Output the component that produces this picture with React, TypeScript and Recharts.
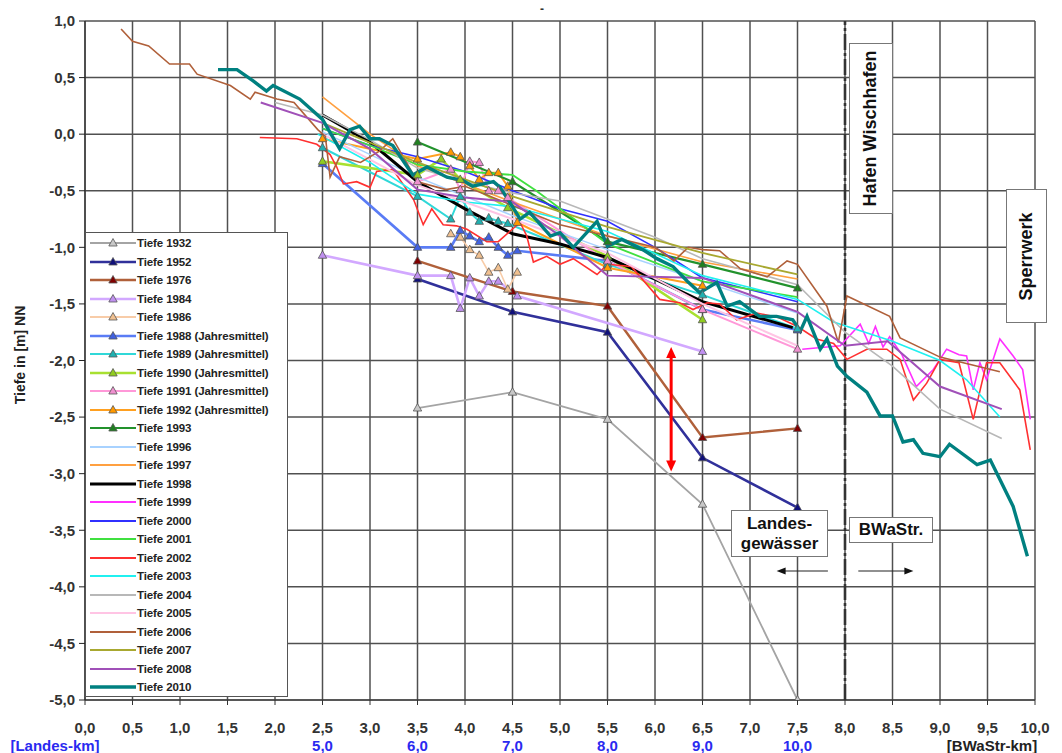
import React from 'react';
import { LineChart, Line, XAxis, YAxis, CartesianGrid, ReferenceLine } from 'recharts';

// ---------- axes ----------
const xTicks = [0, 0.5, 1, 1.5, 2, 2.5, 3, 3.5, 4, 4.5, 5, 5.5, 6, 6.5, 7, 7.5, 8, 8.5, 9, 9.5, 10];
const yTicks = [1, 0.5, 0, -0.5, -1, -1.5, -2, -2.5, -3, -3.5, -4, -4.5, -5];
const landesTicks = [2.5, 3.5, 4.5, 5.5, 6.5, 7.5];
const landesLabels = ['5,0', '6,0', '7,0', '8,0', '9,0', '10,0'];

// ---------- series values [km, Tiefe] ----------
const t1932 = [[3.5, -2.42], [4.5, -2.28], [5.5, -2.52], [6.5, -3.27], [7.5, -5.0]];
const t1952 = [[3.5, -1.28], [4.5, -1.57], [5.5, -1.75], [6.5, -2.86], [7.5, -3.3]];
const t1976 = [[3.5, -1.12], [4.5, -1.39], [5.5, -1.52], [6.5, -2.68], [7.5, -2.6]];
const t1984 = [[2.5, -1.07], [3.5, -1.25], [3.85, -1.25], [3.95, -1.54], [4.05, -1.27], [4.15, -1.43], [4.25, -1.3], [4.35, -1.3], [4.55, -1.43], [6.5, -1.92]];
const t1986 = [[3.85, -0.88], [3.95, -0.91], [4.05, -1.02], [4.15, -1.07], [4.25, -1.22], [4.35, -1.18], [4.45, -1.37], [4.55, -1.22]];
const t1988 = [[2.5, -0.26], [3.5, -1.0], [3.85, -1.0], [3.95, -0.85], [4.05, -0.9], [4.15, -0.95], [4.25, -0.91], [4.35, -1.0], [4.45, -1.07], [4.55, -1.03], [5.5, -1.12], [6.5, -1.55], [7.5, -1.73]];
const t1989 = [[2.5, -0.12], [3.5, -0.55], [3.85, -0.75], [3.95, -0.55], [4.05, -0.69], [4.15, -0.77], [4.25, -0.74], [4.35, -0.77], [4.45, -0.79], [5.5, -1.15], [6.5, -1.42], [7.5, -1.72]];
const t1990 = [[2.5, -0.24], [3.5, -0.36], [3.75, -0.22], [3.95, -0.4], [4.45, -0.65], [5.5, -1.08], [6.5, -1.64]];
const t1991 = [[3.5, -0.42], [3.85, -0.31], [3.95, -0.49], [4.05, -0.24], [4.15, -0.25], [4.25, -0.5], [4.35, -0.5], [4.45, -0.56], [5.5, -1.12], [6.5, -1.55], [7.5, -1.9]];
const t1992 = [[2.5, -0.04], [3.5, -0.22], [3.85, -0.16], [3.95, -0.2], [4.05, -0.28], [4.15, -0.4], [4.25, -0.34], [4.35, -0.34], [4.45, -0.46], [4.55, -0.78], [5.5, -1.18], [6.5, -1.34]];
const t1993 = [[3.5, -0.07], [4.5, -0.42], [5.5, -0.95], [6.5, -1.15], [7.5, -1.36]];
const t1996 = [[2.5, 0.02], [3.5, -0.38], [4.5, -0.72], [5.5, -1.02], [6.5, -1.3], [7.5, -1.58]];
const t1997 = [[2.5, 0.33], [3.0, 0.0], [3.5, -0.28], [4.5, -0.6], [5.5, -0.9], [6.5, -1.13], [7.5, -1.28]];
const t1998 = [[2.5, 0.17], [3.0, -0.07], [3.5, -0.42], [4.0, -0.66], [4.5, -0.88], [5.0, -0.97], [5.5, -1.09], [6.0, -1.28], [6.5, -1.48], [7.45, -1.71]];
const t1999 = [[7.55, -1.9], [7.95, -1.87], [8.16, -1.68], [8.25, -1.85], [8.32, -1.7], [8.4, -1.88], [8.47, -1.79], [8.6, -1.95], [8.75, -2.23], [8.93, -2.08], [9.07, -1.9], [9.2, -1.95], [9.28, -1.96], [9.35, -2.26], [9.42, -2.02], [9.49, -2.17], [9.63, -1.81], [9.77, -1.96], [9.87, -2.08], [9.95, -2.52]];
const t2000 = [[2.5, 0.05], [3.0, -0.1], [3.5, -0.2], [4.0, -0.33], [4.5, -0.5], [5.0, -0.66], [5.5, -0.77], [6.0, -1.0], [6.5, -1.27], [7.5, -1.48]];
const t2001 = [[2.5, 0.05], [3.0, -0.1], [3.5, -0.27], [4.0, -0.33], [4.5, -0.36], [4.75, -0.5], [5.5, -0.97], [6.5, -1.3], [7.5, -1.44]];
const t2002 = [[1.84, -0.03], [2.23, -0.04], [2.44, -0.09], [2.58, -0.18], [2.65, -0.29], [2.72, -0.44], [2.86, -0.42], [3.0, -0.47], [3.07, -0.33], [3.24, -0.31], [3.46, -0.58], [3.56, -0.8], [3.65, -0.66], [3.77, -0.8], [3.91, -0.81], [4.02, -0.84], [4.23, -0.95], [4.35, -0.95], [4.47, -0.86], [4.58, -0.78], [4.65, -0.9], [4.72, -1.13], [4.86, -1.08], [5.0, -1.15], [5.14, -1.1], [5.39, -1.24], [5.5, -1.15], [5.75, -1.17], [6.05, -1.46], [6.26, -1.49], [6.4, -1.55], [6.55, -1.49], [6.68, -1.5], [6.86, -1.64], [7.07, -1.58], [7.3, -1.62], [7.5, -1.7], [7.7, -1.81], [7.88, -1.85], [8.02, -1.99], [8.23, -1.9], [8.44, -1.9], [8.58, -1.99], [8.72, -2.35], [8.86, -2.2], [9.0, -1.99], [9.2, -2.02], [9.35, -2.52], [9.49, -2.02], [9.63, -2.02], [9.84, -2.26], [9.95, -2.79]];
const t2003 = [[2.45, 0.0], [3.0, -0.25], [3.5, -0.53], [4.0, -0.6], [4.5, -0.64], [5.0, -0.75], [5.5, -0.86], [6.5, -1.25], [7.5, -1.46], [7.88, -1.66], [8.5, -1.83], [9.0, -2.0], [9.28, -2.17], [9.63, -2.5]];
const t2004 = [[2.0, 0.28], [2.5, 0.17], [3.0, -0.05], [3.5, -0.3], [4.0, -0.42], [4.5, -0.52], [5.0, -0.59], [5.5, -0.75], [6.0, -0.91], [6.5, -1.1], [7.5, -1.33], [8.0, -1.75], [8.5, -2.05], [9.0, -2.43], [9.65, -2.69]];
const t2005 = [[2.5, 0.0], [3.5, -0.45], [4.5, -0.75], [5.5, -1.05], [6.5, -1.5], [7.5, -1.87]];
const t2006 = [[0.38, 0.93], [0.5, 0.82], [0.67, 0.78], [0.89, 0.62], [1.1, 0.62], [1.18, 0.53], [1.53, 0.43], [1.74, 0.31], [1.79, 0.37], [2.02, 0.31], [2.2, 0.28], [2.45, 0.04], [2.53, -0.02], [2.58, -0.38], [2.68, -0.2], [2.9, -0.25], [3.1, -0.15], [3.24, -0.04], [3.5, -0.42], [3.8, -0.49], [4.0, -0.46], [4.5, -0.63], [5.0, -0.8], [5.5, -0.9], [6.0, -1.0], [6.2, -1.12], [6.35, -1.0], [6.5, -1.02], [6.68, -1.03], [6.9, -1.19], [7.18, -1.26], [7.39, -1.12], [7.5, -1.15], [7.81, -1.52], [7.93, -1.84], [8.02, -1.43], [8.47, -1.61], [8.58, -1.8], [9.0, -1.97], [9.63, -2.1]];
const t2007 = [[2.5, 0.1], [3.5, -0.25], [4.5, -0.55], [5.5, -0.82], [6.5, -1.05], [7.5, -1.24]];
const t2008 = [[1.85, 0.28], [2.5, 0.1], [3.0, -0.13], [3.5, -0.49], [4.0, -0.56], [4.5, -0.6], [5.0, -0.9], [5.5, -1.25], [6.5, -1.27], [7.5, -1.57], [8.0, -1.87], [8.45, -1.83], [9.0, -2.23], [9.65, -2.43]];
const t2010 = [[1.4, 0.57], [1.6, 0.57], [1.77, 0.47], [1.91, 0.38], [1.98, 0.43], [2.26, 0.31], [2.5, 0.13], [2.68, -0.13], [2.79, 0.04], [2.89, 0.07], [3.0, -0.04], [3.1, -0.04], [3.24, -0.1], [3.45, -0.36], [3.6, -0.29], [3.81, -0.38], [3.98, -0.41], [4.08, -0.46], [4.3, -0.42], [4.37, -0.47], [4.5, -0.64], [4.58, -0.75], [4.68, -0.69], [4.9, -0.9], [5.0, -0.87], [5.14, -1.0], [5.39, -0.77], [5.5, -0.99], [5.65, -0.93], [5.87, -1.02], [6.02, -1.1], [6.19, -1.17], [6.34, -1.3], [6.47, -1.4], [6.65, -1.31], [6.76, -1.52], [6.89, -1.48], [7.1, -1.61], [7.28, -1.61], [7.45, -1.64], [7.53, -1.74], [7.6, -1.61], [7.74, -1.9], [7.81, -1.81], [7.92, -2.05], [8.02, -2.14], [8.23, -2.28], [8.37, -2.49], [8.5, -2.49], [8.61, -2.72], [8.72, -2.7], [8.82, -2.82], [9.0, -2.85], [9.1, -2.74], [9.39, -2.92], [9.53, -2.88], [9.77, -3.29], [9.92, -3.73]];

// ---------- annotations (data coords) ----------
const redArrowKm = 6.17;
const redArrowRange = [-1.88, -2.98];
const borderKm = 8.0;
const dirArrowDepth = -3.86;
const leftArrowKm = [7.82, 7.28];
const rightArrowKm = [8.14, 8.72];

// ---------- style config ----------
type S = { name: string; data: number[][]; color: string; width: number; marker?: string };
const series: S[] = [
  { name: 'Tiefe 1932', data: t1932, color: '#a4a4a4', width: 1.8, marker: '#c8c8c8' },
  { name: 'Tiefe 1952', data: t1952, color: '#30309a', width: 2.6, marker: '#10107a' },
  { name: 'Tiefe 1976', data: t1976, color: '#b0603a', width: 2.4, marker: '#800000' },
  { name: 'Tiefe 1984', data: t1984, color: '#d2a8ff', width: 2.6, marker: '#c090f0' },
  { name: 'Tiefe 1986', data: t1986, color: '#f8cca8', width: 1.6, marker: '#f0c090' },
  { name: 'Tiefe 1988 (Jahresmittel)', data: t1988, color: '#5a7cf5', width: 2.6, marker: '#4060e0' },
  { name: 'Tiefe 1989 (Jahresmittel)', data: t1989, color: '#30d8d8', width: 2, marker: '#20b0b0' },
  { name: 'Tiefe 1990 (Jahresmittel)', data: t1990, color: '#a8e030', width: 2.6, marker: '#90cc20' },
  { name: 'Tiefe 1991 (Jahresmittel)', data: t1991, color: '#ff98d8', width: 2, marker: '#f090d0' },
  { name: 'Tiefe 1992 (Jahresmittel)', data: t1992, color: '#ffa020', width: 2, marker: '#ff9900' },
  { name: 'Tiefe 1993', data: t1993, color: '#22922c', width: 2.2, marker: '#208020' },
  { name: 'Tiefe 1996', data: t1996, color: '#a8d2ff', width: 1.5 },
  { name: 'Tiefe 1997', data: t1997, color: '#ffa040', width: 1.6 },
  { name: 'Tiefe 1998', data: t1998, color: '#000000', width: 3 },
  { name: 'Tiefe 1999', data: t1999, color: '#ff30ff', width: 1.6 },
  { name: 'Tiefe 2000', data: t2000, color: '#3030ff', width: 1.6 },
  { name: 'Tiefe 2001', data: t2001, color: '#40e040', width: 1.8 },
  { name: 'Tiefe 2002', data: t2002, color: '#ff3030', width: 1.6 },
  { name: 'Tiefe 2003', data: t2003, color: '#20f0f0', width: 1.6 },
  { name: 'Tiefe 2004', data: t2004, color: '#b8b8b8', width: 1.6 },
  { name: 'Tiefe 2005', data: t2005, color: '#ffc4e4', width: 2 },
  { name: 'Tiefe 2006', data: t2006, color: '#b0603a', width: 1.6 },
  { name: 'Tiefe 2007', data: t2007, color: '#a8a830', width: 1.8 },
  { name: 'Tiefe 2008', data: t2008, color: '#a050b8', width: 2 },
  { name: 'Tiefe 2010', data: t2010, color: '#008080', width: 3.4 },
];

const fmt = (v: number) => v.toFixed(1).replace('.', ',');
const toPts = (arr: number[][]) => arr.map(([x, y]) => ({ x, y }));

const triangle = (fill: string) => (props: any) => {
  const { cx, cy, index } = props;
  if (cx == null || cy == null) return <g key={index} />;
  return (
    <polygon
      key={index}
      points={`${cx},${cy - 4.5} ${cx + 4.2},${cy + 3} ${cx - 4.2},${cy + 3}`}
      fill={fill}
      stroke="#555"
      strokeWidth={0.8}
    />
  );
};

const doubleArrow = (props: any) => {
  const { x1, y1, x2, y2 } = props;
  const top = Math.min(y1, y2);
  const bot = Math.max(y1, y2);
  return (
    <g>
      <line x1={x1} y1={top + 8} x2={x2} y2={bot - 8} stroke="#ff0000" strokeWidth={3} />
      <polygon points={`${x1},${top} ${x1 + 5},${top + 11} ${x1 - 5},${top + 11}`} fill="#ff0000" />
      <polygon points={`${x1},${bot} ${x1 + 5},${bot - 11} ${x1 - 5},${bot - 11}`} fill="#ff0000" />
    </g>
  );
};

const singleArrow = (props: any) => {
  const { x1, y1, x2, y2 } = props;
  const dir = x2 > x1 ? 1 : -1;
  return (
    <g>
      <line x1={x1} y1={y1} x2={x2 - dir * 6} y2={y2} stroke="#222" strokeWidth={1.2} />
      <polygon points={`${x2},${y2} ${x2 - dir * 9},${y2 - 3.5} ${x2 - dir * 9},${y2 + 3.5}`} fill="#111" />
    </g>
  );
};

const FONT = '"Liberation Sans", Arial, Helvetica, sans-serif';
const tickStyle = { fill: '#333', fontSize: 15, fontWeight: 700, fontFamily: FONT };

const boxStyle: React.CSSProperties = {
  position: 'absolute',
  background: '#fff',
  border: '1.5px solid #777',
  boxSizing: 'border-box',
  display: 'flex',
  alignItems: 'center',
  justifyContent: 'center',
  fontFamily: FONT,
  fontWeight: 700,
  fontSize: 17,
  color: '#111',
};

function LegendBox() {
  return (
    <div
      style={{
        position: 'absolute',
        left: 77,
        top: 224,
        width: 203,
        height: 465,
        background: '#fff',
        border: '1px solid #555',
        boxSizing: 'border-box',
        paddingTop: 1,
        fontFamily: FONT,
        zIndex: 2,
      }}
    >
      {series.map((s) => (
        <div key={s.name} style={{ height: 18.5, display: 'flex', alignItems: 'center' }}>
          <svg width={50} height={12} style={{ flex: 'none' }}>
            <line x1={4} y1={6} x2={50} y2={6} stroke={s.color} strokeWidth={Math.max(2, s.width)} />
            {s.marker && (
              <polygon points="27,1.5 31.2,9 22.8,9" fill={s.marker} stroke="#555" strokeWidth={0.8} />
            )}
          </svg>
          <span style={{ fontSize: 11.5, fontWeight: 700, color: '#222', whiteSpace: 'nowrap', marginLeft: 1, letterSpacing: -0.1 }}>
            {s.name}
          </span>
        </div>
      ))}
    </div>
  );
}

export default function App() {
  return (
    <div style={{ position: 'relative', width: 1054, height: 745, fontFamily: FONT, background: '#fff' }}>
      <LineChart width={1054} height={745} margin={{ top: 13, right: 27, bottom: 0, left: 12 }}>
        <CartesianGrid stroke="#505050" strokeWidth={1.5} />
        <XAxis
          dataKey="x"
          type="number"
          domain={[0, 10]}
          ticks={xTicks}
          tickFormatter={fmt}
          allowDataOverflow
          height={40}
          tickSize={5}
          tickMargin={17}
          stroke="#333"
          tick={tickStyle}
          interval={0}
        />
        <XAxis
          xAxisId="landes"
          dataKey="x"
          type="number"
          domain={[0, 10]}
          ticks={landesTicks}
          tickFormatter={(v: number) => landesLabels[landesTicks.indexOf(v)] ?? ''}
          allowDataOverflow
          height={13}
          tickSize={0}
          tickMargin={0}
          axisLine={false}
          tickLine={false}
          tick={{ ...tickStyle, fill: '#2a2af0' }}
          interval={0}
        />
        <YAxis
          type="number"
          domain={[-5, 1]}
          ticks={yTicks}
          tickFormatter={fmt}
          allowDataOverflow
          width={65}
          tickSize={6}
          tickMargin={4}
          stroke="#222"
          tick={tickStyle}
          interval={0}
        />
        <ReferenceLine x={borderKm} stroke="#333" strokeWidth={2.6} strokeDasharray="16 3 3 3" />
        {series.map((s) => (
          <Line
            key={s.name}
            data={toPts(s.data)}
            dataKey="y"
            name={s.name}
            type="linear"
            stroke={s.color}
            strokeWidth={s.width}
            dot={s.marker ? triangle(s.marker) : false}
            activeDot={false}
            isAnimationActive={false}
          />
        ))}
        <ReferenceLine
          segment={[{ x: redArrowKm, y: redArrowRange[0] }, { x: redArrowKm, y: redArrowRange[1] }]}
          shape={doubleArrow}
        />
        <ReferenceLine
          segment={[{ x: leftArrowKm[0], y: dirArrowDepth }, { x: leftArrowKm[1], y: dirArrowDepth }]}
          shape={singleArrow}
        />
        <ReferenceLine
          segment={[{ x: rightArrowKm[0], y: dirArrowDepth }, { x: rightArrowKm[1], y: dirArrowDepth }]}
          shape={singleArrow}
        />
      </LineChart>

      <LegendBox />

      {/* axis titles */}
      <div
        style={{
          position: 'absolute',
          left: 12,
          top: 347,
          transform: 'translate(-50%, -50%) rotate(-90deg)',
          whiteSpace: 'nowrap',
          fontWeight: 700,
          fontSize: 14,
          color: '#222',
        }}
      >
        Tiefe in [m] NN
      </div>
      <div style={{ position: 'absolute', left: 532, top: -6, fontSize: 12, fontWeight: 700, color: '#333' }}>-</div>
      <div
        style={{
          position: 'absolute',
          left: 47,
          top: 737,
          transform: 'translate(-50%, -50%)',
          whiteSpace: 'nowrap',
          fontWeight: 700,
          fontSize: 15,
          color: '#2a2af0',
        }}
      >
        [Landes-km]
      </div>
      <div
        style={{
          position: 'absolute',
          left: 984,
          top: 737,
          transform: 'translate(-50%, -50%)',
          whiteSpace: 'nowrap',
          fontWeight: 700,
          fontSize: 15,
          color: '#222',
        }}
      >
        [BWaStr-km]
      </div>

      {/* text boxes */}
      <div style={{ ...boxStyle, left: 841, top: 35, width: 44, height: 171 }}>
        <span style={{ transform: 'rotate(-90deg)', whiteSpace: 'nowrap', fontSize: 18 }}>Hafen Wischhafen</span>
      </div>
      <div style={{ ...boxStyle, left: 998, top: 181, width: 41, height: 134 }}>
        <span style={{ transform: 'rotate(-90deg)', whiteSpace: 'nowrap', fontSize: 18 }}>Sperrwerk</span>
      </div>
      <div style={{ ...boxStyle, left: 723, top: 502, width: 97, height: 47, flexDirection: 'column', lineHeight: '20px' }}>
        <span>Landes-</span>
        <span>gewässer</span>
      </div>
      <div style={{ ...boxStyle, left: 841, top: 509, width: 84, height: 26 }}>
        <span>BWaStr.</span>
      </div>
    </div>
  );
}
